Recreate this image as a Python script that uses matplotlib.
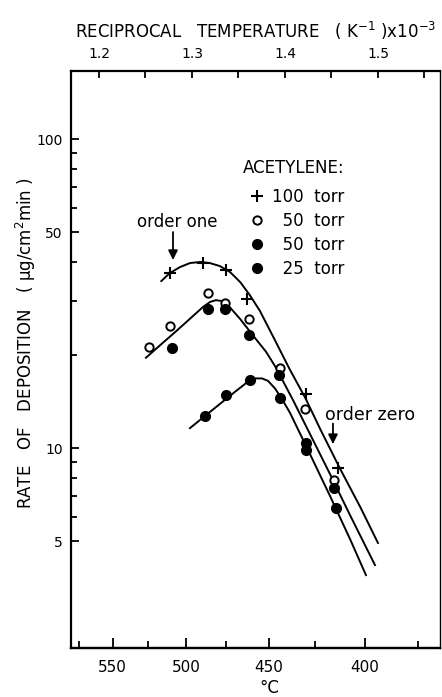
import numpy as np
import matplotlib.pyplot as plt
from matplotlib.ticker import NullFormatter

plt.rcParams['font.family'] = 'DejaVu Sans'

# measured points: reciprocal temperature (1e-3 /K), rate (ug/cm2 min)
t100 = [1.276, 1.312, 1.337, 1.359, 1.423, 1.457]
r100 = [36.8, 39.7, 37.7, 30.3, 15.0, 8.6]

t50o = [1.254, 1.276, 1.317, 1.336, 1.361, 1.395, 1.421, 1.453]
r50o = [21.2, 24.8, 31.7, 29.5, 26.1, 18.1, 13.4, 7.9]

t50f = [1.278, 1.317, 1.336, 1.361, 1.394, 1.423, 1.453]
r50f = [21.0, 28.2, 28.2, 23.2, 17.2, 10.35, 7.4]

t25 = [1.314, 1.337, 1.362, 1.395, 1.423, 1.455]
r25 = [12.7, 14.8, 16.6, 14.5, 9.85, 6.4]

# drawn curves
c100_t = [1.267, 1.276, 1.287, 1.298, 1.309, 1.319, 1.330, 1.341, 1.352,
          1.362, 1.373, 1.389, 1.405, 1.422, 1.438, 1.459, 1.481, 1.500]
c100_r = [34.7, 36.8, 38.5, 39.7, 40.0, 39.7, 38.8, 37.1, 34.4,
          31.3, 27.8, 22.4, 18.0, 14.5, 11.5, 8.6, 6.44, 4.93]

c50_t = [1.2505, 1.2656, 1.2817, 1.2978, 1.3118, 1.3194, 1.3258, 1.3323, 1.3387,
         1.3516, 1.3688, 1.3796, 1.3903, 1.4086, 1.4269, 1.4484, 1.4699, 1.4968]
c50_r = [19.6, 21.5, 23.7, 26.2, 28.6, 29.7, 30.1, 29.9, 29.0,
         26.2, 22.5, 20.5, 18.2, 14.3, 11.1, 8.24, 6.07, 4.18]

c25_t = [1.2978, 1.3140, 1.3301, 1.3462, 1.3602, 1.3688, 1.3753, 1.3817, 1.3892,
         1.3968, 1.4054, 1.4269, 1.4484, 1.4699, 1.4871]
c25_r = [11.6, 12.7, 13.9, 15.2, 16.4, 16.8, 16.8, 16.5, 15.6,
         14.4, 13.0, 9.56, 7.0, 5.08, 3.88]

top_ticks = [1.2, 1.3, 1.4, 1.5]
top_minor = [1.25, 1.35, 1.45, 1.55]
temp_ticks = [550, 500, 450, 400]
temp_minor = [575, 525, 475, 425, 375]
y_ticks = [5, 10, 50, 100]
y_minor = [6, 7, 8, 9, 20, 30, 40, 60, 70, 80, 90]

fig = plt.figure(figsize=(4.42, 6.97), dpi=100)
ax = fig.add_axes([71/442, 1 - 648/697, 369/442, (648 - 71)/697])

ax.plot(c100_t, c100_r, color='k', lw=1.4)
ax.plot(c50_t, c50_r, color='k', lw=1.4)
ax.plot(c25_t, c25_r, color='k', lw=1.4)

h1, = ax.plot(t100, r100, '+', color='k', ms=9, mew=1.5, label='100  torr')
h2, = ax.plot(t50o, r50o, 'o', mfc='white', mec='k', ms=6, mew=1.4, label='\u200750  torr')
h3, = ax.plot(t50f, r50f, 'o', color='k', ms=7, label='\u200750  torr')
h4, = ax.plot(t25, r25, 'o', color='k', ms=7, label='\u200725  torr')

ax.set_yscale('log')
ax.set_xlim(1.1699, 1.5667)
ax.set_ylim(2.254, 166)

ax.set_yticks(y_ticks, [str(v) for v in y_ticks])
ax.set_yticks(y_minor, minor=True)
ax.yaxis.set_minor_formatter(NullFormatter())

ax.xaxis.tick_top()
ax.xaxis.set_label_position('top')
ax.set_xticks(top_ticks, [str(v) for v in top_ticks])
ax.set_xticks(top_minor, minor=True)
ax.set_xlabel('RECIPROCAL   TEMPERATURE   ( K$^{-1}$ )x10$^{-3}$',
              fontsize=12, labelpad=7)

ax.tick_params(axis='both', which='both', direction='in', width=1.3,
               labelsize=10, right=False)
ax.tick_params(axis='y', which='major', length=6, pad=6)
ax.tick_params(axis='y', which='minor', length=4)
ax.tick_params(axis='x', which='both', length=5, pad=7)

sec = ax.secondary_xaxis('bottom', functions=(lambda u: 1000.0 / u - 273.15,
                                              lambda c: 1000.0 / (c + 273.15)))
sec.set_xticks(temp_ticks, [str(v) for v in temp_ticks])
sec.set_xticks(temp_minor, minor=True)
sec.xaxis.set_minor_formatter(NullFormatter())
sec.tick_params(axis='x', which='major', direction='in', length=7, width=1.3,
                labelsize=11, pad=9)
sec.tick_params(axis='x', which='minor', direction='in', length=5, width=1.3)
sec.spines['bottom'].set_linewidth(1.6)
ax.text(0.537, -0.069, '°C', transform=ax.transAxes, ha='center',
        va='center', fontsize=12)

for s in ['left', 'top', 'bottom']:
    ax.spines[s].set_linewidth(1.6)
ax.spines['right'].set_linewidth(1.0)

fig.text(26/442, 1 - 343/697, 'RATE   OF   DEPOSITION   ( µg/cm$^2$min )',
         rotation=90, ha='center', va='center', fontsize=12)

ax.text(0.466, (648 - 168) / 577, 'ACETYLENE:', transform=ax.transAxes,
        ha='left', va='center', fontsize=12)
leg = ax.legend(handles=[h1, h2, h3, h4], loc='upper left',
                bbox_to_anchor=(0.466, 0.7972), frameon=False, fontsize=12,
                handlelength=1.7, handletextpad=0.05,
                labelspacing=0.35, borderpad=0, borderaxespad=0)

arrow = dict(arrowstyle='-|>', color='k', lw=1.3, mutation_scale=14,
             shrinkA=0, shrinkB=0)
ax.text(1.2844, 53.9, 'order one', ha='center', va='center', fontsize=12)
ax.annotate('', xy=(1.2796, 40.6), xytext=(1.2796, 50.0), arrowprops=arrow)
ax.text(1.4914, 12.8, 'order zero', ha='center', va='center', fontsize=12.5)
ax.annotate('', xy=(1.4516, 10.3), xytext=(1.4516, 12.0), arrowprops=arrow)

fig.savefig('out.png', dpi=100)
